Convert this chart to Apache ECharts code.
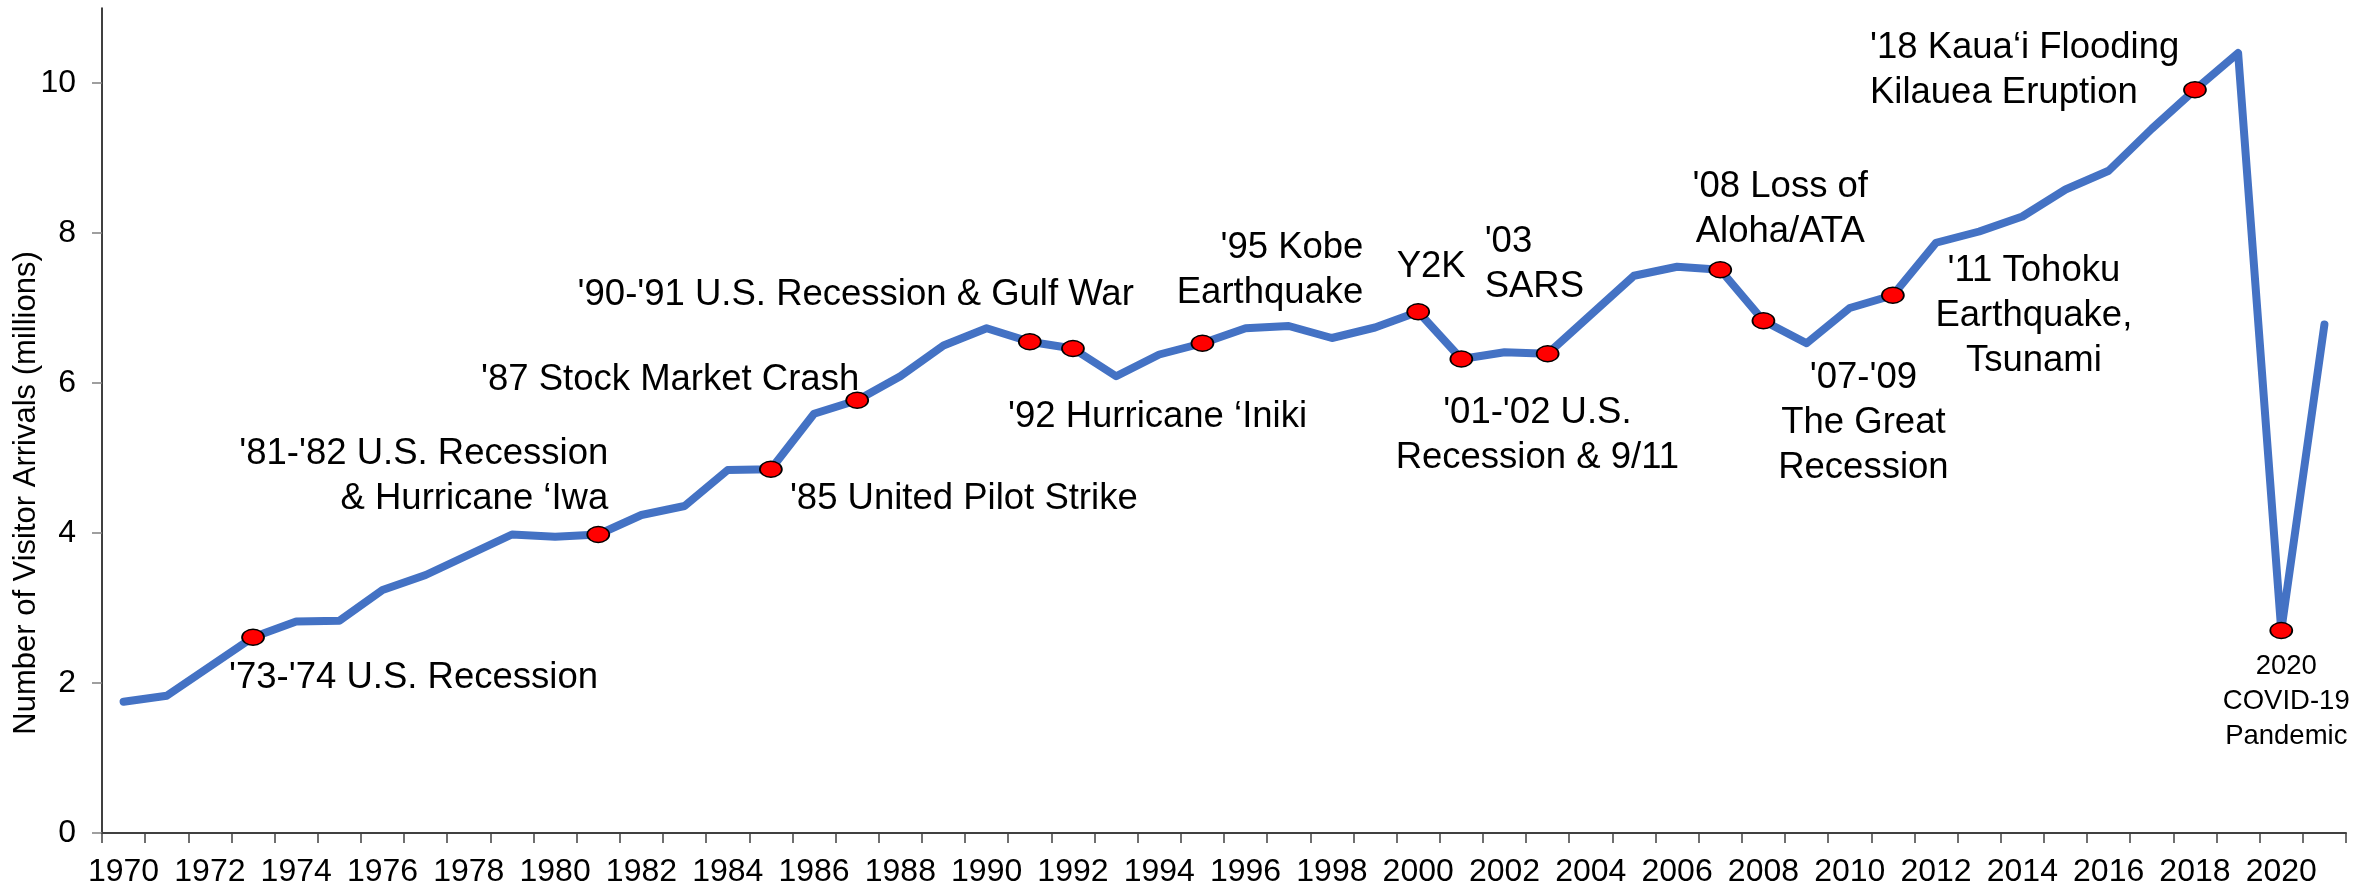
<!DOCTYPE html>
<html><head><meta charset="utf-8">
<script src="https://cdn.jsdelivr.net/npm/echarts@6/dist/echarts.min.js"></script>
<style>html,body{margin:0;padding:0;background:#fff}#c{width:2366px;height:888px}</style>
</head><body><div id="c"></div>
<script>
const years = ['1970','1971','1972','1973','1974','1975','1976','1977','1978','1979',
  '1980','1981','1982','1983','1984','1985','1986','1987','1988','1989',
  '1990','1991','1992','1993','1994','1995','1996','1997','1998','1999',
  '2000','2001','2002','2003','2004','2005','2006','2007','2008','2009',
  '2010','2011','2012','2013','2014','2015','2016','2017','2018','2019',
  '2020','2021'];
const arrivals = [1.75,1.83,2.22,2.61,2.82,2.83,3.24,3.44,3.71,3.98,
  3.95,3.98,4.24,4.36,4.84,4.85,5.59,5.77,6.09,6.50,
  6.73,6.55,6.46,6.09,6.38,6.53,6.73,6.76,6.60,6.74,
  6.95,6.32,6.41,6.39,6.91,7.43,7.55,7.51,6.83,6.53,
  7.00,7.17,7.87,8.02,8.22,8.58,8.83,9.39,9.91,10.40,
  2.70,6.78];
const yTicks = [0,2,4,6,8,10];
const eventYears = ['1973','1981','1985','1987','1991','1992','1995','2000','2001','2003','2007','2008','2011','2018','2020'];
const eventLabels = [
  "'73-'74 U.S. Recession",
  "'81-'82 U.S. Recession\n& Hurricane \u2018Iwa",
  "'85 United Pilot Strike",
  "'87 Stock Market Crash",
  "'90-'91 U.S. Recession & Gulf War",
  "'92 Hurricane \u2018Iniki",
  "'95 Kobe\nEarthquake",
  "Y2K",
  "'01-'02 U.S.\nRecession & 9/11",
  "'03\nSARS",
  "'08 Loss of\nAloha/ATA",
  "'07-'09\nThe Great\nRecession",
  "'11 Tohoku\nEarthquake,\nTsunami",
  "'18 Kaua\u2018i Flooding\nKilauea Eruption",
  "2020\nCOVID-19\nPandemic"
];
const yTitle = 'Number of Visitor Arrivals (millions)';

// label placement (style only)
const labelPlacement = [
  {align:'left',   offset:[-24, 41]},
  {align:'right',  offset:[10, -58]},
  {align:'left',   offset:[19, 30]},
  {align:'right',  offset:[2, -20]},
  {align:'right',  offset:[104, -47]},
  {align:'left',   offset:[-65, 68]},
  {align:'right',  offset:[161, -73]},
  {align:'center', offset:[13, -45]},
  {align:'center', offset:[76, 76]},
  {align:'left',   offset:[-63, -89]},
  {align:'center', offset:[60, -60]},
  {align:'center', offset:[100, 102]},
  {align:'center', offset:[141, 21]},
  {align:'left',   offset:[-325, -19]},
  {align:'center', offset:[5, 71], fontSize:27.5, lineHeight:35}
];

const FONT = 'Liberation Sans, Arial, sans-serif';
const chart = echarts.init(document.getElementById('c'), null, {renderer:'canvas'});

const eventData = eventYears.map((y, k) => {
  const p = labelPlacement[k];
  return {
    value: [y, arrivals[years.indexOf(y)]],
    label: {
      show: true,
      position: 'inside',
      formatter: eventLabels[k],
      align: p.align,
      verticalAlign: 'middle',
      offset: p.offset,
      color: '#000',
      fontFamily: FONT,
      fontSize: p.fontSize || 36.5,
      lineHeight: p.lineHeight || 45
    }
  };
});

chart.setOption({
  animation: false,
  backgroundColor: '#fff',
  grid: {left: 102, right: 20, top: 8, bottom: 55, containLabel: false},
  xAxis: {
    type: 'category',
    data: years,
    boundaryGap: true,
    axisLine: {lineStyle: {color: '#404040', width: 2}},
    axisTick: {show: true, interval: 0, length: 10, lineStyle: {color: '#404040', width: 1.5}},
    axisLabel: {interval: 1, color: '#000', fontFamily: FONT, fontSize: 32, margin: 23},
    splitLine: {show: false}
  },
  yAxis: {
    type: 'value',
    min: 0, max: 11, interval: 2,
    axisLine: {show: true, lineStyle: {color: '#000', width: 1.5}},
    axisTick: {show: true, length: 10, customValues: yTicks, lineStyle: {color: '#808080', width: 1.5}},
    axisLabel: {customValues: yTicks, color: '#000', fontFamily: FONT, fontSize: 32, margin: 26},
    splitLine: {show: false}
  },
  graphic: [{
    type: 'text',
    x: 26, y: 493,
    rotation: Math.PI / 2,
    style: {text: yTitle, fontFamily: FONT, fontSize: 31, fill: '#000', align: 'center', verticalAlign: 'middle'}
  }],
  series: [
    {
      type: 'line',
      data: arrivals,
      symbol: 'none',
      lineStyle: {color: '#4472C4', width: 8, cap: 'round', join: 'round'},
      z: 2
    },
    {
      type: 'scatter',
      data: eventData,
      symbol: 'circle',
      symbolSize: [22, 16],
      itemStyle: {color: '#FF0000', borderColor: '#000', borderWidth: 1.5, opacity: 1},
      z: 3
    }
  ]
});
</script></body></html>
